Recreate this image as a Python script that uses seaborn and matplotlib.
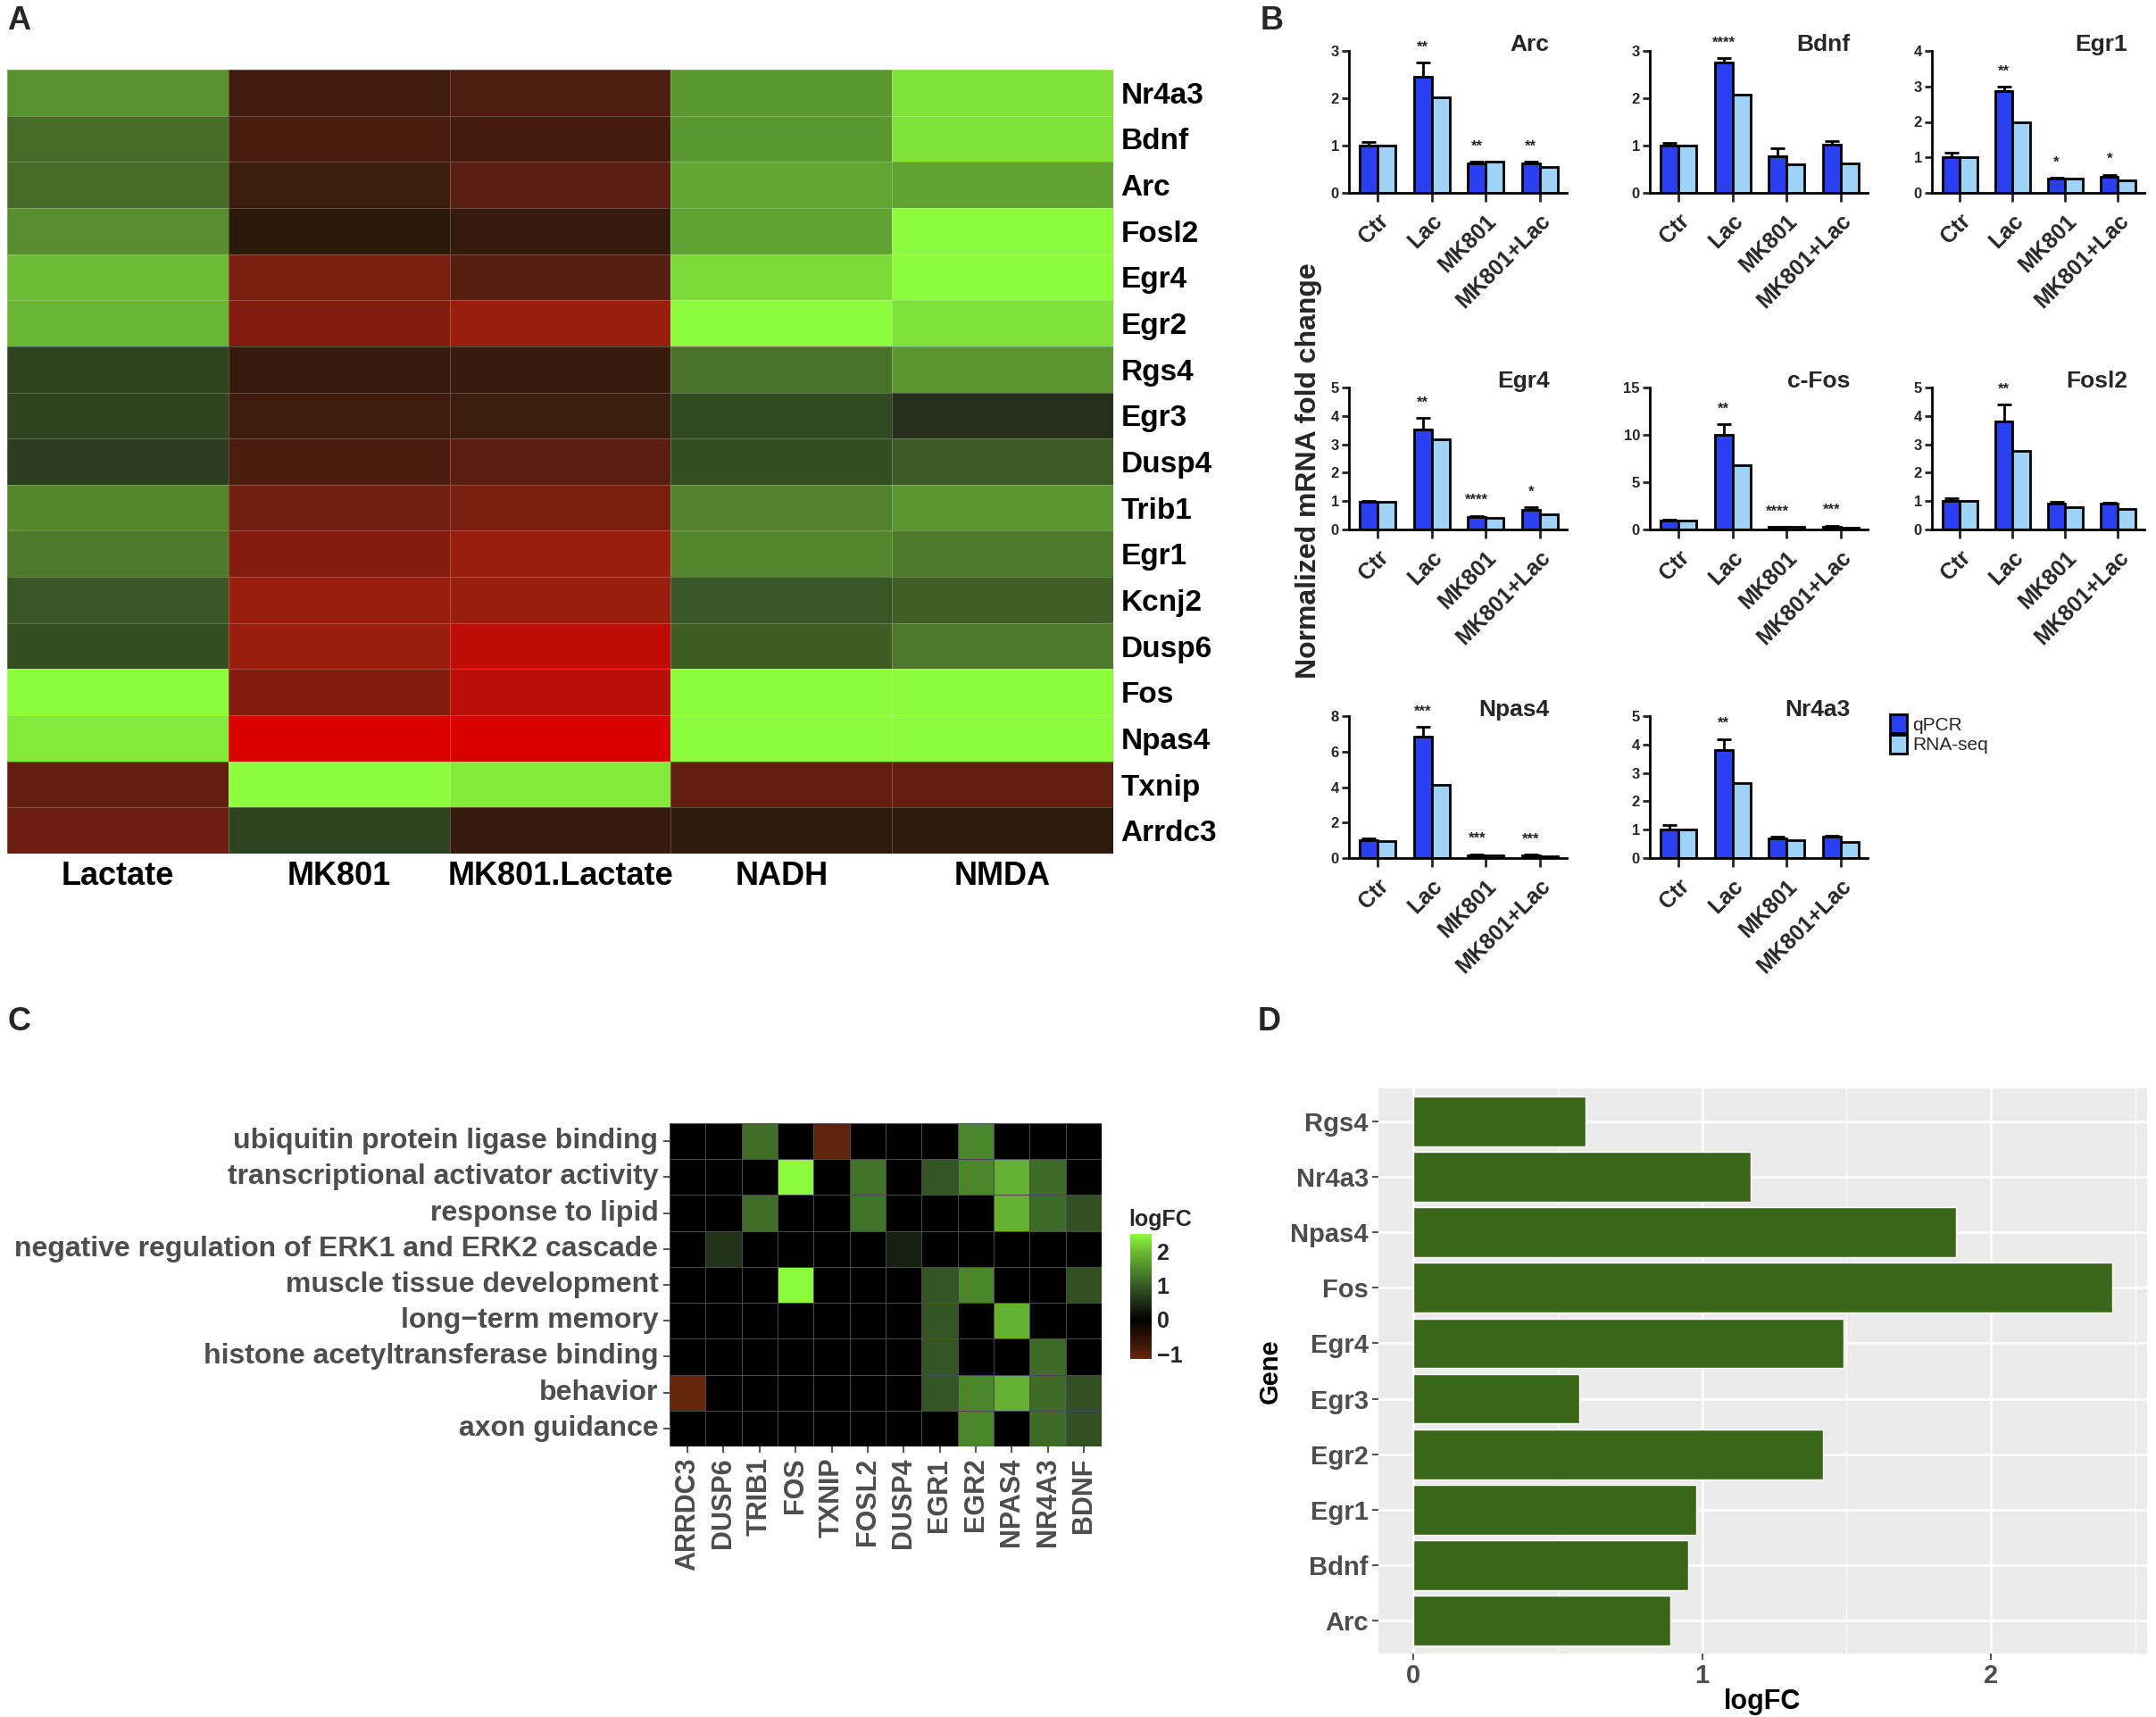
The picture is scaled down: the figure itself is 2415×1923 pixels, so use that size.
import numpy as np
import pandas as pd
import matplotlib
matplotlib.use('Agg')
import matplotlib.pyplot as plt
import seaborn as sns
from matplotlib.colors import LinearSegmentedColormap
from matplotlib.patches import Patch

# ---------------- DATA ----------------
# Panel A heatmap (scaled expression, rows = genes, columns = treatments)
a_genes = ['Nr4a3', 'Bdnf', 'Arc', 'Fosl2', 'Egr4', 'Egr2', 'Rgs4', 'Egr3', 'Dusp4',
           'Trib1', 'Egr1', 'Kcnj2', 'Dusp6', 'Fos', 'Npas4', 'Txnip', 'Arrdc3']
a_conditions = ['Lactate', 'MK801', 'MK801.Lactate', 'NADH', 'NMDA']
a_lactate = [0.60, 0.42, 0.42, 0.58, 0.78, 0.75, 0.20, 0.21, 0.15, 0.55, 0.48, 0.30, 0.25, 1.00, 0.93, -0.45, -0.50]
a_mk801 = [-0.25, -0.30, -0.22, -0.10, -0.55, -0.60, -0.18, -0.23, -0.32, -0.52, -0.60, -0.70, -0.70, -0.60, -1.00, 1.00, 0.20]
a_mk801_lactate = [-0.33, -0.27, -0.42, -0.17, -0.40, -0.70, -0.20, -0.22, -0.42, -0.55, -0.70, -0.70, -0.87, -0.85, -1.00, 0.93, -0.18]
a_nadh = [0.63, 0.63, 0.70, 0.68, 0.88, 1.00, 0.44, 0.23, 0.25, 0.53, 0.55, 0.30, 0.33, 1.00, 1.00, -0.46, -0.12]
a_nmda = [0.90, 0.90, 0.68, 1.00, 1.00, 0.90, 0.62, 0.05, 0.32, 0.62, 0.48, 0.35, 0.48, 1.00, 1.00, -0.45, -0.12]

# Panel B: qPCR (mean, SEM) and RNA-seq fold changes
b_groups = ['Ctr', 'Lac', 'MK801', 'MK801+Lac']
arc_qpcr = [1.00, 2.45, 0.62, 0.62]
arc_err = [0.08, 0.30, 0.04, 0.04]
arc_rnaseq = [1.00, 2.02, 0.66, 0.55]
arc_stars = ['', '**', '**', '**']

bdnf_qpcr = [1.00, 2.75, 0.77, 1.02]
bdnf_err = [0.06, 0.10, 0.17, 0.07]
bdnf_rnaseq = [1.00, 2.07, 0.60, 0.62]
bdnf_stars = ['', '****', '', '']

egr1_qpcr = [1.00, 2.87, 0.40, 0.45]
egr1_err = [0.12, 0.12, 0.03, 0.06]
egr1_rnaseq = [1.00, 2.00, 0.40, 0.35]
egr1_stars = ['', '**', '*', '*']

egr4_qpcr = [0.98, 3.52, 0.45, 0.68]
egr4_err = [0.03, 0.40, 0.03, 0.10]
egr4_rnaseq = [0.97, 3.18, 0.42, 0.55]
egr4_stars = ['', '**', '****', '*']

cfos_qpcr = [0.95, 10.0, 0.25, 0.25]
cfos_err = [0.10, 1.10, 0.05, 0.15]
cfos_rnaseq = [0.95, 6.80, 0.30, 0.18]
cfos_stars = ['', '**', '****', '***']

fosl2_qpcr = [1.00, 3.80, 0.92, 0.90]
fosl2_err = [0.10, 0.60, 0.05, 0.04]
fosl2_rnaseq = [1.00, 2.78, 0.78, 0.72]
fosl2_stars = ['', '**', '', '']

npas4_qpcr = [1.00, 6.85, 0.17, 0.15]
npas4_err = [0.10, 0.55, 0.05, 0.05]
npas4_rnaseq = [0.97, 4.15, 0.15, 0.10]
npas4_stars = ['', '***', '***', '***']

nr4a3_qpcr = [1.00, 3.82, 0.70, 0.75]
nr4a3_err = [0.15, 0.37, 0.07, 0.05]
nr4a3_rnaseq = [1.00, 2.63, 0.63, 0.58]
nr4a3_stars = ['', '**', '', '']

b_titles = ['Arc', 'Bdnf', 'Egr1', 'Egr4', 'c-Fos', 'Fosl2', 'Npas4', 'Nr4a3']
b_ymax = [3, 3, 4, 5, 15, 5, 8, 5]
b_ystep = [1, 1, 1, 1, 5, 1, 2, 1]
b_methods = ['qPCR', 'RNA-seq']

# Panel C: GO terms x genes (logFC of member genes)
c_terms = ['ubiquitin protein ligase binding', 'transcriptional activator activity',
           'response to lipid', 'negative regulation of ERK1 and ERK2 cascade',
           'muscle tissue development', 'long\u2212term memory',
           'histone acetyltransferase binding', 'behavior', 'axon guidance']
c_genes = ['ARRDC3', 'DUSP6', 'TRIB1', 'FOS', 'TXNIP', 'FOSL2', 'DUSP4',
           'EGR1', 'EGR2', 'NPAS4', 'NR4A3', 'BDNF']
c_gene_logfc = [-1.15, 0.55, 1.20, 2.50, -1.10, 1.25, 0.35, 0.95, 1.42, 1.88, 1.17, 0.90]
c_ubiquitin = ['TRIB1', 'TXNIP', 'EGR2']
c_transcriptional = ['FOS', 'FOSL2', 'EGR1', 'EGR2', 'NPAS4', 'NR4A3']
c_lipid = ['TRIB1', 'FOSL2', 'NPAS4', 'NR4A3', 'BDNF']
c_erk = ['DUSP6', 'DUSP4']
c_muscle = ['FOS', 'EGR1', 'EGR2', 'BDNF']
c_memory = ['EGR1', 'NPAS4']
c_histone = ['EGR1', 'NR4A3']
c_behavior = ['ARRDC3', 'EGR1', 'EGR2', 'NPAS4', 'NR4A3', 'BDNF']
c_axon = ['EGR2', 'NR4A3', 'BDNF']

# Panel D
d_genes = ['Rgs4', 'Nr4a3', 'Npas4', 'Fos', 'Egr4', 'Egr3', 'Egr2', 'Egr1', 'Bdnf', 'Arc']
d_logfc = [0.595, 1.167, 1.88, 2.42, 1.49, 0.576, 1.42, 0.98, 0.952, 0.89]

# ---------------- STYLE ----------------
sns.set_theme(style='white')
plt.rcParams['font.family'] = ['Liberation Sans', 'DejaVu Sans']

W, H = 2415, 1923
fig = plt.figure(figsize=(W / 100, H / 100), dpi=100)


def box(x0, y0, x1, y1):
    return [x0 / W, 1 - y1 / H, (x1 - x0) / W, (y1 - y0) / H]


def make_cmap(nodes, vmin, vmax):
    return LinearSegmentedColormap.from_list(
        'c', [((v - vmin) / (vmax - vmin), c) for v, c in nodes])


# ---------------- PANEL A ----------------
cmapA = make_cmap([(-1.0, '#DA0000'), (-0.7, '#9A1E0E'), (-0.4, '#561E12'),
                   (-0.1, '#2A1A0A'), (0.05, '#25301C'), (0.2, '#2E4420'),
                   (0.45, '#4A722A'), (0.7, '#62A532'), (1.0, '#8CFC3C')], -1, 1)
dfA = pd.DataFrame({'Lactate': a_lactate, 'MK801': a_mk801, 'MK801.Lactate': a_mk801_lactate,
                    'NADH': a_nadh, 'NMDA': a_nmda}, index=a_genes)[a_conditions]
axA = fig.add_axes(box(8, 78, 1247, 956))
sns.heatmap(dfA, ax=axA, cmap=cmapA, vmin=-1, vmax=1, cbar=False,
            linewidths=0.6, linecolor=(1, 1, 1, 0.22))
axA.yaxis.tick_right()
axA.set_yticklabels(a_genes, rotation=0, fontsize=24, fontweight='bold', color='black')
axA.set_xticklabels(a_conditions, rotation=0, fontsize=26, fontweight='bold', color='black')
axA.tick_params(axis='both', length=0, pad=6)
axA.set_xlabel('')
axA.set_ylabel('')

# ---------------- PANEL B ----------------
qcol, rcol = '#2A3FF0', '#9ED3F7'
b_data = [(arc_qpcr, arc_err, arc_rnaseq, arc_stars),
          (bdnf_qpcr, bdnf_err, bdnf_rnaseq, bdnf_stars),
          (egr1_qpcr, egr1_err, egr1_rnaseq, egr1_stars),
          (egr4_qpcr, egr4_err, egr4_rnaseq, egr4_stars),
          (cfos_qpcr, cfos_err, cfos_rnaseq, cfos_stars),
          (fosl2_qpcr, fosl2_err, fosl2_rnaseq, fosl2_stars),
          (npas4_qpcr, npas4_err, npas4_rnaseq, npas4_stars),
          (nr4a3_qpcr, nr4a3_err, nr4a3_rnaseq, nr4a3_stars)]
col_x = [(1511, 1755), (1848, 2092), (2164, 2402)]
row_y = [(57, 216), (434, 593), (802, 961)]

for i, (q, e, r, stars) in enumerate(b_data):
    rr, cc = divmod(i, 3)
    x0, x1 = col_x[cc]
    y0, y1 = row_y[rr]
    ax = fig.add_axes(box(x0, y0, x1, y1))
    df = pd.DataFrame({'group': b_groups * 2, 'value': q + r,
                       'method': [b_methods[0]] * 4 + [b_methods[1]] * 4})
    sns.barplot(data=df, x='group', y='value', hue='method', hue_order=b_methods,
                palette={'qPCR': qcol, 'RNA-seq': rcol}, saturation=1, width=0.66,
                edgecolor='black', linewidth=2, errorbar=None, ax=ax, legend=False)
    ymax = b_ymax[i]
    for bar, err, s in zip(ax.containers[0], e, stars):
        xc = bar.get_x() + bar.get_width() / 2
        top = bar.get_height()
        ax.errorbar([xc], [top], yerr=[[0], [err]], fmt='none', ecolor='black',
                    elinewidth=2, capsize=6, capthick=2, zorder=5)
        if s:
            ax.text(xc, top + err + 0.06 * ymax, s, ha='center', va='bottom',
                    fontsize=12, fontweight='bold', clip_on=False)
    ax.set_ylim(0, ymax)
    ax.set_yticks(np.arange(0, ymax + 0.01, b_ystep[i]))
    ax.set_yticklabels([str(int(v)) for v in np.arange(0, ymax + 0.01, b_ystep[i])],
                       fontsize=12, fontweight='bold')
    ax.set_xlim(-0.53, 3.5)
    ax.set_xticks(range(4))
    ax.set_xticklabels(b_groups, rotation=45, ha='right', va='top', rotation_mode='anchor',
                       fontsize=18, fontweight='bold')
    for sp in ['top', 'right']:
        ax.spines[sp].set_visible(False)
    for sp in ['left', 'bottom']:
        ax.spines[sp].set_linewidth(2)
        ax.spines[sp].set_color('black')
    ax.tick_params(axis='y', direction='out', length=6, width=2, pad=2, left=True)
    ax.tick_params(axis='x', direction='out', length=7, width=2, pad=7, bottom=True)
    ax.set_xlabel('')
    ax.set_ylabel('')
    ax.set_facecolor('white')
    ax.text(0.92, 1.0, b_titles[i], transform=ax.transAxes, ha='right', va='baseline',
            fontsize=19, fontweight='bold')

fig.legend(handles=[Patch(facecolor=qcol, edgecolor='black', linewidth=2, label='qPCR'),
                    Patch(facecolor=rcol, edgecolor='black', linewidth=2, label='RNA-seq')],
           loc='upper left', bbox_to_anchor=(2117 / W, 1 - 800 / H), frameon=False,
           fontsize=15, handlelength=0.9, handleheight=1.2, labelspacing=0.05,
           handletextpad=0.3, borderpad=0, borderaxespad=0)
fig.text(1466 / W, 1 - 527 / H, 'Normalized mRNA fold change', rotation=90,
         ha='center', va='center', fontsize=23, fontweight='bold')

# ---------------- PANEL C ----------------
c_members = [c_ubiquitin, c_transcriptional, c_lipid, c_erk, c_muscle,
             c_memory, c_histone, c_behavior, c_axon]
c_lookup = dict(zip(c_genes, c_gene_logfc))
dfC = pd.DataFrame([[c_lookup[g] if g in m else 0.0 for g in c_genes] for m in c_members],
                   index=c_terms, columns=c_genes)
cmapC = make_cmap([(-1.15, '#64260F'), (0.0, '#000000'), (0.5, '#1E2E16'),
                   (1.0, '#365A26'), (1.5, '#4F8C2C'), (2.0, '#6CBC34'),
                   (2.5, '#8CFA3C')], -1.15, 2.5)
axC = fig.add_axes(box(750, 1258, 1234, 1620))
caxC = fig.add_axes(box(1266, 1382, 1290, 1522))
sns.heatmap(dfC, ax=axC, cmap=cmapC, vmin=-1.15, vmax=2.5, linewidths=0.6,
            linecolor='#4a4a4a', cbar_ax=caxC, cbar_kws={'ticks': [-1, 0, 1, 2]})
axC.set_yticklabels(c_terms, rotation=0, fontsize=23, fontweight='bold', color='#4D4D4D')
axC.set_xticklabels(c_genes, rotation=90, fontsize=22, fontweight='bold', color='#4D4D4D')
axC.tick_params(axis='both', length=5, width=1.2, color='#333333', pad=4,
                left=True, bottom=True)
axC.set_xlabel('')
axC.set_ylabel('')
caxC.tick_params(axis='y', direction='in', color='white', length=5, width=1,
                 labelsize=18, pad=4)
for lab in caxC.get_yticklabels():
    lab.set_fontweight('bold')
cbC = axC.collections[0].colorbar
if cbC is not None:
    cbC.outline.set_visible(False)
for sp in caxC.spines.values():
    sp.set_visible(False)
fig.text(1264 / W, 1 - 1373 / H, 'logFC', ha='left', va='baseline', fontsize=18,
         fontweight='bold')

# ---------------- PANEL D ----------------
axD = fig.add_axes(box(1544, 1219, 2405, 1852))
dfD = pd.DataFrame({'Gene': d_genes, 'logFC': d_logfc})
sns.barplot(data=dfD, x='logFC', y='Gene', order=d_genes, orient='h', color='#3A6619',
            saturation=1, width=0.9, errorbar=None, ax=axD, zorder=3)
axD.set_facecolor('#EBEBEB')
axD.set_xlim(-0.121, 2.541)
axD.set_ylim(9.6, -0.6)
axD.set_xticks([0, 1, 2])
axD.set_xticks([0.5, 1.5, 2.5], minor=True)
axD.grid(True, which='major', color='white', linewidth=1.8, zorder=0)
axD.grid(True, which='minor', axis='x', color='white', linewidth=0.8, zorder=0)
axD.set_axisbelow(True)
for sp in axD.spines.values():
    sp.set_visible(False)
axD.tick_params(axis='both', which='major', length=5, width=1.2, color='#333333',
                labelsize=21, labelcolor='#4D4D4D', left=True, bottom=True, pad=3)
axD.tick_params(axis='x', which='minor', length=0)
for lab in axD.get_xticklabels() + axD.get_yticklabels():
    lab.set_fontweight('bold')
axD.set_xlabel('logFC', fontsize=22, fontweight='bold', color='black', labelpad=0)
axD.set_ylabel('Gene', fontsize=21, fontweight='bold', color='black', labelpad=6)

# ---------------- PANEL LETTERS ----------------
for letter, (px, py) in zip('ABCD', [(8, 6), (1412, 6), (8, 1127), (1409, 1127)]):
    fig.text(px / W, 1 - py / H, letter, ha='left', va='top', fontsize=26, fontweight='bold')

fig.savefig('out.png', dpi=100, facecolor='white')
